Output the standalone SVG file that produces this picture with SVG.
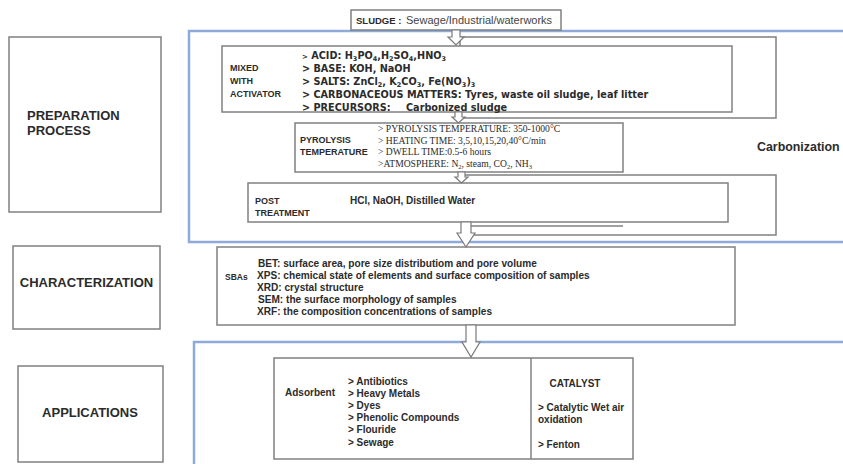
<svg xmlns="http://www.w3.org/2000/svg" width="843" height="464" viewBox="0 0 843 464">
<style>
.bg{fill:#ffffff}
.box{fill:#ffffff;stroke:#808080;stroke-width:1.5}
.blue{fill:#ffffff;stroke:#8eaadb;stroke-width:2.5}
.arr{fill:#ffffff;stroke:#7a7a7a;stroke-width:1.2;stroke-linejoin:miter}
.ln{stroke:#808080;stroke-width:1.5;fill:none}
text{fill:#2b2b2b}
.lab{font-family:"Liberation Sans",Arial,sans-serif;font-weight:bold;font-size:13px}
.sm{font-family:"Liberation Sans",Arial,sans-serif;font-weight:bold;font-size:9px}
.mx{font-family:"DejaVu Sans",Verdana,sans-serif;font-weight:bold;font-size:9.7px}
.ser{font-family:"Liberation Serif","Times New Roman",serif;font-size:9.6px}
.cal{font-family:"Liberation Sans",Arial,sans-serif;font-weight:bold;font-size:10px}
.sba{font-family:"Liberation Sans",Arial,sans-serif;font-weight:bold;font-size:10.1px}
.reg{font-family:"Liberation Sans",Arial,sans-serif;font-size:11px;fill:#444}
.sb{font-size:6.5px;baseline-shift:-2px}
</style>
<rect class="bg" x="0" y="0" width="843" height="464"/>

<g id="containers">
  <rect id="carbonization-frame" class="blue" x="189" y="31" width="680" height="211"/>
  <rect id="applications-frame" class="blue" x="194" y="342" width="680" height="140"/>
  <text class="lab" x="757" y="150.5" style="font-size:12.4px">Carbonization</text>
</g>

<g id="preparation-process">
  <rect class="box" x="9" y="37" width="152" height="175"/>
  <text class="lab" x="27" y="119.5">PREPARATION</text>
  <text class="lab" x="27" y="134.5">PROCESS</text>
</g>
<g id="characterization">
  <rect class="box" x="13" y="246" width="147" height="83"/>
  <text class="lab" x="86.5" y="286.5" text-anchor="middle">CHARACTERIZATION</text>
</g>
<g id="applications">
  <rect class="box" x="18" y="366" width="145" height="96"/>
  <text class="lab" x="90" y="416.5" text-anchor="middle">APPLICATIONS</text>
</g>

<g id="sludge">
  <rect class="box" x="351" y="10" width="210" height="20"/>
  <text x="356" y="24"><tspan class="cal" style="font-size:9.5px">SLUDGE :</tspan><tspan class="reg" x="406">Sewage/Industrial/waterworks</tspan></text>
</g>

<g id="mixed-with-activator">
  <rect class="box" x="460" y="37" width="316" height="81"/>
  <rect class="box" x="222" y="46" width="510" height="66"/>
  <text class="sm" x="230" y="70.5">MIXED</text>
  <text class="sm" x="230" y="83.5">WITH</text>
  <text class="sm" x="230" y="96.5">ACTIVATOR</text>
  <text class="mx" x="302" y="58.5"><tspan style="font-size:7px">&gt;</tspan> ACID:  H<tspan class="sb">3</tspan>PO<tspan class="sb">4</tspan>,H<tspan class="sb">2</tspan>SO<tspan class="sb">4</tspan>,HNO<tspan class="sb">3</tspan></text>
  <text class="mx" x="302" y="72">&gt; BASE: KOH, NaOH</text>
  <text class="mx" x="302" y="85">&gt; SALTS: ZnCl<tspan class="sb">2</tspan>, K<tspan class="sb">2</tspan>CO<tspan class="sb">3</tspan>, Fe(NO<tspan class="sb">3</tspan>)<tspan class="sb">3</tspan></text>
  <text class="mx" x="302" y="98">&gt; CARBONACEOUS MATTERS: Tyres, waste oil sludge, leaf litter</text>
  <text class="mx" x="302" y="111">&gt; PRECURSORS:<tspan x="406">Carbonized sludge</tspan></text>
</g>

<g id="pyrolysis-temperature">
  <rect class="box" x="295" y="123" width="328" height="49"/>
  <text class="sm" x="300" y="142.5">PYROLYSIS</text>
  <text class="sm" x="300" y="155">TEMPERATURE</text>
  <text class="ser" x="378" y="132">&gt; PYROLYSIS TEMPERATURE: 350-1000°C</text>
  <text class="ser" x="378" y="143.5">&gt; HEATING TIME: 3,5,10,15,20,40°C/min</text>
  <text class="ser" x="378" y="155">&gt; DWELL TIME:0.5-6 hours</text>
  <text class="ser" x="378" y="166.5">&gt;ATMOSPHERE: N<tspan class="sb">2</tspan>, steam, CO<tspan class="sb">2</tspan>, NH<tspan class="sb">3</tspan></text>
</g>

<g id="post-treatment">
  <rect class="box" x="462" y="175" width="314" height="60"/>
  <rect class="box" x="248" y="183" width="480" height="39"/>
  <text class="sm" x="255" y="203.5">POST</text>
  <text class="sm" x="255" y="216">TREATMENT</text>
  <text class="cal" x="350" y="203.5">HCl, NaOH, Distilled Water</text>
</g>

<g id="sbas">
  <rect class="box" x="217" y="247" width="518" height="78"/>
  <text class="cal" x="225" y="280" style="font-size:8.5px">SBAs</text>
  <text class="sba" x="258" y="266.5">BET: surface area, pore size distributiom and pore volume</text>
  <text class="sba" x="257" y="278.5">XPS: chemical state of elements and surface composition of samples</text>
  <text class="sba" x="257" y="290.5">XRD: crystal structure</text>
  <text class="sba" x="258" y="303">SEM: the surface morphology of samples</text>
  <text class="sba" x="257" y="315">XRF: the composition  concentrations of samples</text>
</g>

<g id="adsorbent-catalyst">
  <rect class="box" x="274" y="358" width="359" height="101"/>
  <line class="ln" x1="531" y1="358" x2="531" y2="459"/>
  <text class="cal" x="285" y="395.5">Adsorbent</text>
  <text class="cal" x="348" y="384.5">&gt; Antibiotics</text>
  <text class="cal" x="348" y="396.7">&gt; Heavy Metals</text>
  <text class="cal" x="348" y="408.9">&gt; Dyes</text>
  <text class="cal" x="348" y="421.1">&gt; Phenolic Compounds</text>
  <text class="cal" x="348" y="433.3">&gt; Flouride</text>
  <text class="cal" x="348" y="445.5">&gt; Sewage</text>
  <text class="cal" x="575" y="386.5" text-anchor="middle">CATALYST</text>
  <text class="cal" x="538" y="410.5">&gt; Catalytic Wet air</text>
  <text class="cal" x="538" y="423">oxidation</text>
  <text class="cal" x="538" y="447.5">&gt; Fenton</text>
</g>

<g id="connectors">
  <line class="ln" x1="471" y1="226" x2="623" y2="226"/>
  <polygon class="arr" points="452,30 460,30 460,37 464,37 456,45 448,37 452,37"/>
  <polygon class="arr" points="455,112 462,112 462,117 465,117 458.5,123 452,117 455,117"/>
  <polygon class="arr" points="458,172 465,172 465,177 468,177 461.5,183 455,177 458,177"/>
  <polygon class="arr" points="461,222 471,222 471,233 475,233 466,247 457,233 461,233"/>
  <polygon class="arr" points="466,325 476,325 476,342 480,342 471,357 462,342 466,342"/>
</g>
</svg>
